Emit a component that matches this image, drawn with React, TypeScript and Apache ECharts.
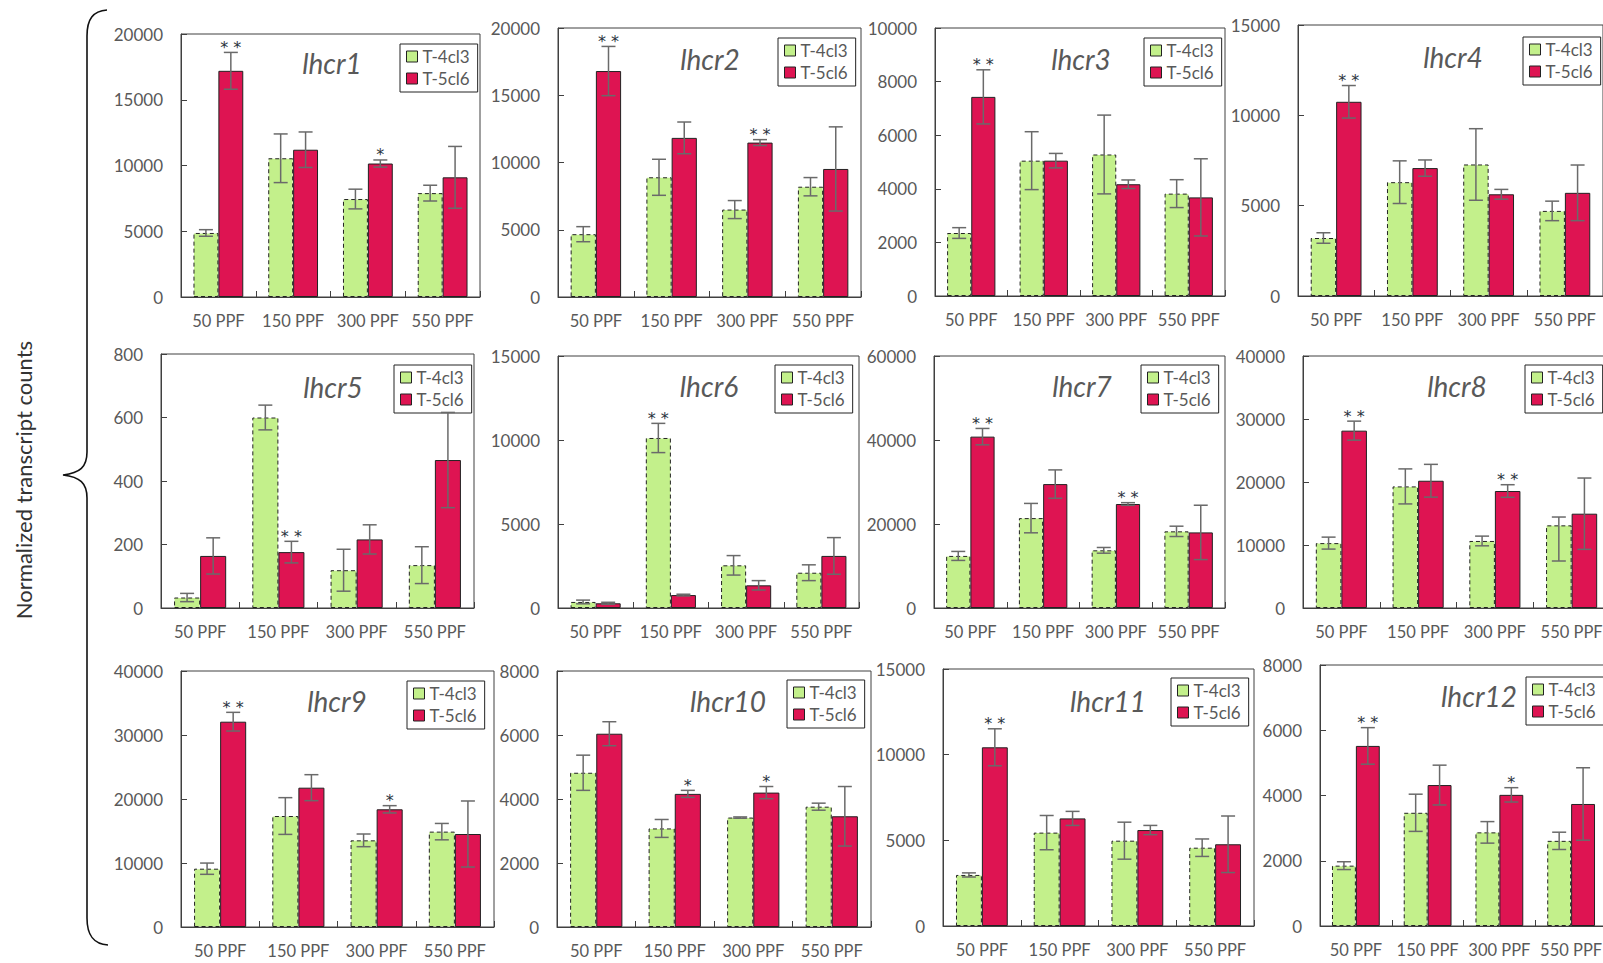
import React, { useEffect, useRef } from 'react';
import * as echarts from 'echarts';

// ---------------- data ----------------
const categories = ['50 PPF', '150 PPF', '300 PPF', '550 PPF'];
const genes = ['lhcr1', 'lhcr2', 'lhcr3', 'lhcr4', 'lhcr5', 'lhcr6', 'lhcr7', 'lhcr8', 'lhcr9', 'lhcr10', 'lhcr11', 'lhcr12'];
const seriesNames = ['T-4cl3', 'T-5cl6'];
const yAxisTitle = 'Normalized transcript counts';
const yMax = [20000, 20000, 10000, 15000, 800, 15000, 60000, 40000, 40000, 8000, 15000, 8000];
const yInterval = [5000, 5000, 2000, 5000, 200, 5000, 20000, 10000, 10000, 2000, 5000, 2000];

const t4cl3Mean = [
  [4870, 10550, 7450, 7900],
  [4670, 8900, 6500, 8200],
  [2350, 5050, 5280, 3820],
  [3210, 6300, 7280, 4710],
  [33, 600, 119, 135],
  [360, 10120, 2540, 2100],
  [12400, 21400, 13730, 18250],
  [10300, 19300, 10640, 13120],
  [9110, 17340, 13540, 14900],
  [4820, 3080, 3420, 3760],
  [2980, 5450, 4980, 4570],
  [1850, 3470, 2870, 2610],
];
// error: number (symmetric) or [minus, plus]
const t4cl3Err: (number | number[])[][] = [
  [250, 1850, 750, 600],
  [560, 1340, 670, 680],
  [200, 1080, 1470, 520],
  [290, 1180, 1980, 540],
  [13, 39, 66, 58],
  [110, 870, 580, 470],
  [1070, 3500, 680, 1230],
  [950, 2780, 770, [5660, 1320]],
  [880, 2870, 990, 1280],
  [550, 280, 20, 110],
  [120, 1000, 1080, 510],
  [120, 570, 330, 265],
];
const t5cl6Mean = [
  [17200, 11200, 10150, 9100],
  [16800, 11830, 11480, 9520],
  [7430, 5050, 4170, 3680],
  [10750, 7080, 5630, 5710],
  [164, 176, 216, 466],
  [280, 770, 1350, 3100],
  [40800, 29500, 24760, 18000],
  [28150, 20200, 18570, 14970],
  [32080, 21770, 18390, 14530],
  [6040, 4160, 4200, 3460],
  [10430, 6280, 5600, 4770],
  [5520, 4320, 4020, 3740],
];
const t5cl6Err: (number | number[])[][] = [
  [1400, 1350, 270, 2350],
  [1830, 1180, 220, 3130],
  [1010, 270, 160, 1440],
  [900, 450, 270, 1540],
  [57, 34, 46, 150],
  [60, 50, 280, 1090],
  [1950, 3380, 320, 6470],
  [1510, 2600, 1000, 5660],
  [1460, 2030, 570, 5160],
  [375, 110, 190, 930],
  [1080, 410, 270, 1650],
  [560, 610, 220, 1110],
];
// significance marks: [series (0 = T-4cl3, 1 = T-5cl6), category index, mark]
const significance: [number, number, string][][] = [
  [[1, 0, '**'], [1, 2, '*']],
  [[1, 0, '**'], [1, 2, '**']],
  [[1, 0, '**']],
  [[1, 0, '**']],
  [[1, 1, '**']],
  [[0, 1, '**']],
  [[1, 0, '**'], [1, 2, '**']],
  [[1, 0, '**'], [1, 2, '**']],
  [[1, 0, '**'], [1, 2, '*']],
  [[1, 1, '*'], [1, 2, '*']],
  [[1, 0, '**']],
  [[1, 0, '**'], [1, 2, '*']],
];

// ---------------- layout ----------------
const gridBoxes = [
  [181, 34, 299, 263],
  [558, 28, 303, 269],
  [935, 28, 290, 268],
  [1298, 25, 305, 271],
  [161, 354, 313, 254],
  [558, 356, 301, 252],
  [934, 356, 291, 252],
  [1303, 356, 307, 252],
  [181, 671, 313, 256],
  [557, 671, 314, 256],
  [943, 669, 311, 257],
  [1320, 665, 287, 261],
];
const titlePos = [
  [332, 63], [710, 59], [1081, 59], [1453, 57],
  [333, 387], [709, 386], [1082, 386], [1457, 386],
  [337, 701], [728, 701], [1108, 701], [1479, 696],
];
const legendPos = [
  [400, 44], [778, 38], [1144, 38], [1523, 37],
  [394, 365], [775, 365], [1141, 365], [1525, 365],
  [407, 681], [787, 680], [1171, 678], [1526, 677],
];

const GREEN = '#C3F08B';
const RED = '#DE1452';
const AXIS = '#404040';
const LABEL = '#595959';
const FONT = 'Lato';

const BRACE_D =
  'M107,10 C93,11 87,19 87,36 L87,452 C87,467 80,473 63,475 C80,477 87,483 87,498 L87,918 C87,935 93,944 108,945';
let braceRegistered = false;
function registerBrace() {
  if (braceRegistered) return;
  echarts.graphic.registerShape('brace', echarts.graphic.extendPath(BRACE_D, {}));
  braceRegistered = true;
}

function bounds(mean: number, err: number | number[]) {
  if (Array.isArray(err)) return [mean - err[0], mean + err[1]];
  return [mean - err, mean + err];
}

function buildOption() {
  const grid: any[] = [];
  const xAxis: any[] = [];
  const yAxis: any[] = [];
  const series: any[] = [];
  const legend: any[] = [];
  const graphic: any[] = [];

  genes.forEach((gene, p) => {
    const [l, t, w, h] = gridBoxes[p];
    grid.push({ left: l, top: t, width: w, height: h, show: true, borderColor: AXIS, borderWidth: 1, backgroundColor: 'transparent', outerBoundsMode: 'none', containLabel: false });
    xAxis.push({
      type: 'category', gridIndex: p, data: categories,
      axisLine: { show: true, lineStyle: { color: AXIS, width: 1 } },
      axisTick: { show: true, inside: true, length: 6, alignWithLabel: false, lineStyle: { color: AXIS } },
      axisLabel: { margin: 15, fontSize: 16.5, color: LABEL, fontFamily: FONT, interval: 0 },
      splitLine: { show: false },
    });
    yAxis.push({
      type: 'value', gridIndex: p, min: 0, max: yMax[p], interval: yInterval[p],
      axisLine: { show: true, lineStyle: { color: AXIS, width: 1 } },
      axisTick: { show: true, inside: true, length: 6, lineStyle: { color: AXIS } },
      axisLabel: { margin: 18, fontSize: 17, color: LABEL, fontFamily: FONT, formatter: (v: number) => String(v) },
      splitLine: { show: false },
    });
    series.push({
      type: 'bar', name: seriesNames[0], xAxisIndex: p, yAxisIndex: p, data: t4cl3Mean[p],
      barWidth: '33.3%', barGap: '0%',
      itemStyle: { color: GREEN, borderColor: '#222', borderWidth: 1, borderType: [4, 3] },
      emphasis: { disabled: true },
    });
    series.push({
      type: 'bar', name: seriesNames[1], xAxisIndex: p, yAxisIndex: p, data: t5cl6Mean[p],
      barWidth: '33.3%', barGap: '0%',
      itemStyle: { color: RED, borderColor: '#222', borderWidth: 1 },
      emphasis: { disabled: true },
    });

    const items: number[][] = [];
    const marks: string[] = [];
    [t4cl3Mean[p], t5cl6Mean[p]].forEach((means, s) => {
      const errs = s === 0 ? t4cl3Err[p] : t5cl6Err[p];
      means.forEach((m, c) => {
        const [lo, hi] = bounds(m, errs[c]);
        items.push([c, s, m, lo, hi]);
        const mk = significance[p].find((d) => d[0] === s && d[1] === c);
        marks.push(mk ? mk[2] : '');
      });
    });
    series.push({
      type: 'custom', name: 'err-' + gene, xAxisIndex: p, yAxisIndex: p, z: 5,
      encode: { x: 0, y: [2, 3, 4] },
      data: items,
      renderItem: (params: any, api: any) => {
        const c = api.value(0);
        const s = api.value(1);
        const m = api.value(2);
        const lo = api.value(3);
        const hi = api.value(4);
        const band = api.size([1, 0])[0];
        const base = api.coord([c, m]);
        const x = base[0] + (s === 0 ? -band / 6 : band / 6);
        const yHi = api.coord([c, hi])[1];
        const yLo = api.coord([c, lo])[1];
        const cap = 7;
        const ls = { stroke: '#6a6a6a', lineWidth: 1.5 };
        const children: any[] = [
          { type: 'line', shape: { x1: x, y1: yHi, x2: x, y2: yLo }, style: ls },
          { type: 'line', shape: { x1: x - cap, y1: yHi, x2: x + cap, y2: yHi }, style: ls },
          { type: 'line', shape: { x1: x - cap, y1: yLo, x2: x + cap, y2: yLo }, style: ls },
        ];
        const mk = marks[params.dataIndex];
        if (mk) {
          children.push({
            type: 'text', x, y: yHi + 3,
            style: { text: mk.split('').join(' '), align: 'center', verticalAlign: 'bottom', fontSize: 16, fontFamily: 'DejaVu Sans', fill: '#2a3340' },
          });
        }
        return { type: 'group', children };
      },
    });

    legend.push({
      left: legendPos[p][0], top: legendPos[p][1], orient: 'vertical',
      padding: [4, 8, 5, 6], itemGap: 5, itemWidth: 11, itemHeight: 11,
      borderColor: '#222', borderWidth: 1, backgroundColor: '#fff', borderRadius: 0,
      selectedMode: false,
      textStyle: { fontFamily: FONT, fontSize: 17, color: LABEL, lineHeight: 17 },
      itemStyle: { borderWidth: 1 },
      data: [{ name: seriesNames[0], icon: 'rect' }, { name: seriesNames[1], icon: 'rect' }],
    });

    graphic.push({
      type: 'text', x: titlePos[p][0], y: titlePos[p][1], z: 10,
      style: { text: gene, align: 'center', verticalAlign: 'middle', fontSize: 28, fontStyle: 'italic', fontFamily: FONT, fill: LABEL },
    });
  });

  graphic.push({
    type: 'brace', x: 0, y: 0, z: 10,
    style: { stroke: '#111', fill: 'none', lineWidth: 1.6 },
  });
  graphic.push({
    type: 'text', x: 23, y: 480, rotation: Math.PI / 2, z: 10,
    style: { text: yAxisTitle, align: 'center', verticalAlign: 'middle', fontSize: 22, fontFamily: FONT, fill: '#333' },
  });

  return {
    animation: false,
    backgroundColor: '#fff',
    textStyle: { fontFamily: FONT },
    tooltip: { show: false },
    grid, xAxis, yAxis, series, legend, graphic,
  };
}

export default function App() {
  const ref = useRef<HTMLDivElement>(null);
  useEffect(() => {
    if (!ref.current) return;
    registerBrace();
    const chart = echarts.init(ref.current, null, { renderer: 'svg' });
    chart.setOption(buildOption() as any);
    return () => chart.dispose();
  }, []);
  return (
    <div
      ref={ref}
      style={{ position: 'absolute', left: 0, top: 0, width: 1603, height: 963, background: '#fff' }}
    />
  );
}
